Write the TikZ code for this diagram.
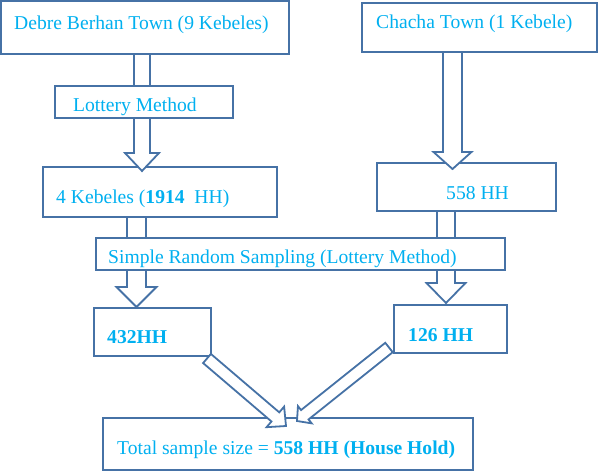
\documentclass[tikz,border=0pt]{standalone}
\usepackage{fontspec}
\setmainfont{Liberation Serif}
\usetikzlibrary{calc}
\definecolor{txtblue}{RGB}{0,176,240}
\definecolor{edgeblue}{RGB}{70,114,166}
\newcommand\blockarrow[5]{%
  \path ($(#2)!#5!(#1)$) coordinate (hb);
  \draw[arr] ($(#1)!#3!90:(#2)$) -- ($(hb)!#3!-90:(#1)$) -- ($(hb)!#4!-90:(#1)$) -- (#2)
    -- ($(hb)!#4!90:(#1)$) -- ($(hb)!#3!90:(#1)$) -- ($(#1)!#3!-90:(#2)$) -- cycle;
}
\begin{document}
\begin{tikzpicture}[x=1pt,y=-1pt,
  box/.style={draw=edgeblue, line width=1.8pt, fill=white, inner sep=0pt, rectangle},
  arr/.style={draw=edgeblue, line width=1.8pt, fill=white, line join=miter},
  lbl/.style={anchor=base west, inner sep=0pt, text=txtblue, font=\fontsize{19.6}{22}\selectfont}]
\fill[white] (0,0) rectangle (598,471);
\useasboundingbox (0,0) rectangle (598,471);
% boxes (lower layer)
\node[box, minimum width=288pt, minimum height=53pt] (debre) at (145,27.5) {};
\node[box, minimum width=235pt, minimum height=49pt] (chacha) at (479.5,27.5) {};
\node[box, minimum width=234pt, minimum height=50pt] (keb) at (160,192) {};
\node[box, minimum width=179pt, minimum height=48pt] (hh558) at (466.5,187) {};
\node[box, minimum width=117pt, minimum height=48pt] (hh432) at (152.5,332) {};
\node[box, minimum width=113pt, minimum height=48pt] (hh126) at (450.5,329) {};
\node[box, minimum width=370pt, minimum height=52pt] (total) at (288,444) {};
% arrow end points
\coordinate (a1s) at (142,54);   \coordinate (a1e) at (142,171);
\coordinate (a2s) at (136.5,217); \coordinate (a2e) at (136.5,307);
\coordinate (a3s) at (452.5,52); \coordinate (a3e) at (452.5,169);
\coordinate (a4s) at (446,211);  \coordinate (a4e) at (446,303);
\coordinate (a5s) at (207,358.5); \coordinate (a5e) at (286,426);
\coordinate (a6s) at (389,347.5); \coordinate (a6e) at (297,421);
\blockarrow{a1s}{a1e}{8pt}{17pt}{18pt}
\blockarrow{a2s}{a2e}{9.5pt}{20pt}{20pt}
\blockarrow{a3s}{a3e}{9.5pt}{19pt}{17pt}
\blockarrow{a4s}{a4e}{9pt}{19.5pt}{20pt}
\blockarrow{a5s}{a5e}{6pt}{13.5pt}{14pt}
\blockarrow{a6s}{a6e}{6pt}{11pt}{10pt}
% boxes on top of arrows
\node[box, minimum width=178pt, minimum height=32pt] (lottery) at (144,102) {};
\node[box, minimum width=409pt, minimum height=32pt] (srs) at (300.5,254) {};
% texts
\node[lbl] (tdebre) at (14,29) {Debre Berhan Town (9 Kebeles)};
\node[lbl] (tchacha) at (376,28) {Chacha Town (1 Kebele)};
\node[lbl] (tlottery) at (73,111) {Lottery Method};
\node[lbl] (tkeb) at (56,203) {4 Kebeles (\textbf{1914}\ \ HH)};
\node[lbl] (t558) at (446,199) {558 HH};
\node[lbl] (tsrs) at (108,263) {Simple Random Sampling (Lottery Method)};
\node[lbl] (t432) at (107,343) {\textbf{432HH}};
\node[lbl] (t126) at (408,341) {\textbf{126 HH}};
\node[lbl] (ttotal) at (117,454) {Total sample size = \textbf{558 HH (House Hold)}};
\end{tikzpicture}
\end{document}
